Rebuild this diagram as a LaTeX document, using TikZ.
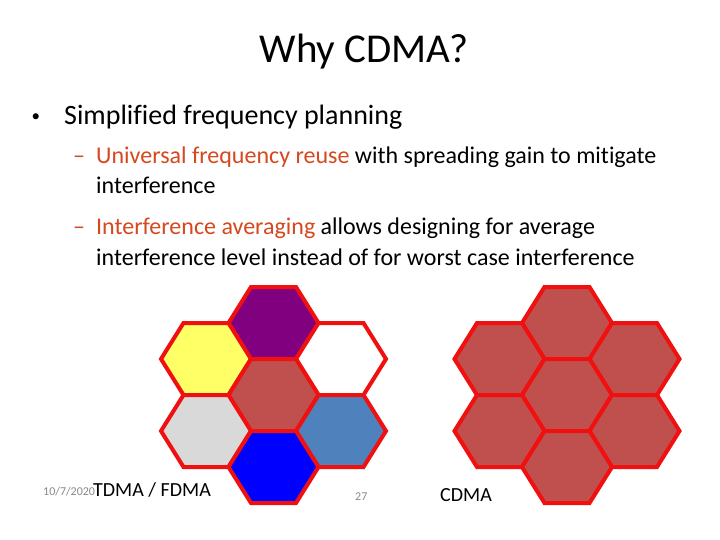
\documentclass[tikz,border=0pt]{standalone}
\usepackage{fontspec}
\setmainfont[Ligatures=NoCommon]{Carlito}
\definecolor{accent}{RGB}{214,72,30}
\definecolor{hexred}{RGB}{240,16,16}
\definecolor{cpurple}{RGB}{128,0,128}
\definecolor{cyellow}{RGB}{255,255,102}
\definecolor{csienna}{RGB}{192,80,77}
\definecolor{cgray}{RGB}{217,217,217}
\definecolor{csteel}{RGB}{79,129,189}
\definecolor{cblue}{RGB}{0,0,255}
\definecolor{footgray}{RGB}{137,137,137}
\newcommand\hexcell[3]{\filldraw[hexline,fill=#3,shift={(#1,#2)}] (-45,0) -- (-22.5,-36) -- (22.5,-36) -- (45,0) -- (22.5,36) -- (-22.5,36) -- cycle;}
\begin{document}
\begin{tikzpicture}[x=1pt,y=-1pt,
  hexline/.style={draw=hexred,line width=4pt,line join=miter},
  txt/.style={inner sep=0pt,anchor=base west},
  lvlone/.style={txt,font=\fontsize{28}{34}\selectfont},
  lvltwo/.style={txt,font=\fontsize{24}{29}\selectfont},
  foot/.style={txt,font=\fontsize{12}{14}\selectfont,text=footgray},
  captxt/.style={txt,font=\fontsize{20}{24}\selectfont}]
\useasboundingbox (0,0) rectangle (720,540);
\fill[white] (0,0) rectangle (720,540);
% title
\node[inner sep=0pt,anchor=base,font=\fontsize{41}{48}\selectfont] (title) at (364,63) {Why CDMA?};
% bullets
\node[txt,font=\fontsize{17}{20}\selectfont] (b1) at (31.5,122) {•};
\node[lvlone] (t1) at (64,125) {Simplified frequency planning};
\node[lvltwo,text=accent] (d1) at (73,164) {–};
\node[lvltwo] (t2) at (96,164) {\textcolor{accent}{Universal frequency reuse} with spreading gain to mitigate};
\node[lvltwo] (t3) at (96,194) {interference};
\node[lvltwo,text=accent] (d2) at (73,235) {–};
\node[lvltwo] (t4) at (96,235) {\textcolor{accent}{Interference averaging} allows designing for average};
\node[lvltwo] (t5) at (96,265) {interference level instead of for worst case interference};
% left cluster (TDMA / FDMA)
\hexcell{273.5}{323}{cpurple}
\hexcell{206}{359}{cyellow}
\hexcell{341}{359}{white}
\hexcell{273.5}{395}{csienna}
\hexcell{206}{431}{cgray}
\hexcell{341}{431}{csteel}
\hexcell{273.5}{467}{cblue}
% right cluster (CDMA)
\hexcell{567}{323}{csienna}
\hexcell{499.5}{359}{csienna}
\hexcell{634.5}{359}{csienna}
\hexcell{567}{395}{csienna}
\hexcell{499.5}{431}{csienna}
\hexcell{634.5}{431}{csienna}
\hexcell{567}{467}{csienna}
% footer
\node[foot] (date) at (43,495) {10/7/2020};
\node[captxt] (tf) at (93,496) {TDMA / FDMA};
\node[foot] (num) at (355,500) {27};
\node[captxt] (cd) at (440,501) {CDMA};
\end{tikzpicture}
\end{document}
